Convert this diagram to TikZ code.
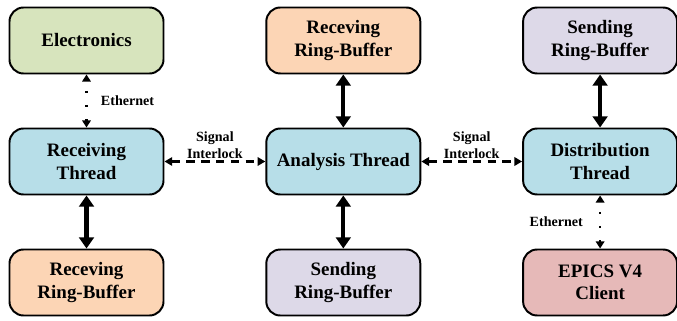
\documentclass[tikz,border=0pt]{standalone}
\usepackage{fontspec}
\setmainfont{Liberation Serif}
\usepackage{tikz}
\usetikzlibrary{shapes,arrows.meta,positioning}
\definecolor{elecgreen}{HTML}{D7E4BD}
\definecolor{threadblue}{HTML}{B7DEE8}
\definecolor{recvpeach}{HTML}{FCD5B5}
\definecolor{sendlilac}{HTML}{DDD9E8}
\definecolor{epicsrose}{HTML}{E6B9B8}
\tikzstyle{block} = [draw, rounded corners=10pt, line width=1.4pt,
    minimum width=3.85cm, minimum height=1.65cm, align=center,
    font=\fontsize{13.5}{16}\selectfont\bfseries]
\tikzstyle{bus} = [line width=3pt,
    {Triangle[width=10.5pt,length=8pt]}-{Triangle[width=10.5pt,length=8pt]}]
\tikzstyle{ether} = [line width=1.6pt, dash pattern=on 1.6pt off 8.4pt, dash phase=3pt,
    {Triangle[width=6pt,length=5pt]}-{Triangle[width=6pt,length=5pt]}]
\tikzstyle{signal} = [line width=1.5pt, dash pattern=on 6pt off 4.5pt,
    {Triangle[width=6pt,length=5.5pt]}-{Triangle[width=6pt,length=5.5pt]}]
\tikzstyle{note} = [font=\fontsize{10}{12.5}\selectfont\bfseries, inner sep=0pt, align=center]

\begin{document}
\begin{tikzpicture}[node distance = 3cm, auto]
  \useasboundingbox (0,0) rectangle (16.925,-8);
  \node [block, fill=elecgreen] at (2.1625,-1.0125) (c11) {Electronics};
  \node [block, fill=threadblue, below of=c11, node distance = 3.025cm] (c21) {Receiving\\Thread};
  \node [block, fill=recvpeach, below of=c21, node distance = 3.025cm] (c31) {Receving\\Ring-Buffer};
  \node [block, fill=recvpeach, right of=c11, node distance = 6.42cm] (c12) {Receving\\Ring-Buffer};
  \node [block, fill=threadblue, right of=c21, node distance = 6.42cm] (c22) {Analysis Thread};
  \node [block, fill=sendlilac, right of=c31, node distance = 6.42cm] (c32) {Sending\\Ring-Buffer};
  \node [block, fill=sendlilac, right of=c12, node distance = 6.42cm] (c13) {Sending\\Ring-Buffer};
  \node [block, fill=threadblue, right of=c22, node distance = 6.42cm] (c23) {Distribution\\Thread};
  \node [block, fill=epicsrose, right of=c32, node distance = 6.42cm] (c33) {EPICS V4\\Client};
  \draw [ether] (c11) -- node [note, right=9.5pt] (e1) {Ethernet} (c21);
  \draw [ether] (c23) -- node [note, left=11.5pt] (e2) {Ethernet} (c33);
  \draw [bus] (c21) -- (c31);
  \draw [bus] (c12) -- (c22);
  \draw [bus] (c22) -- (c32);
  \draw [bus] (c13) -- (c23);
  \draw [signal] (c21) -- node [note, above=1pt] (s1) {Signal\\Interlock} (c22);
  \draw [signal] (c22) -- node [note, above=1pt] (s2) {Signal\\Interlock} (c23);
\end{tikzpicture}
\end{document}
